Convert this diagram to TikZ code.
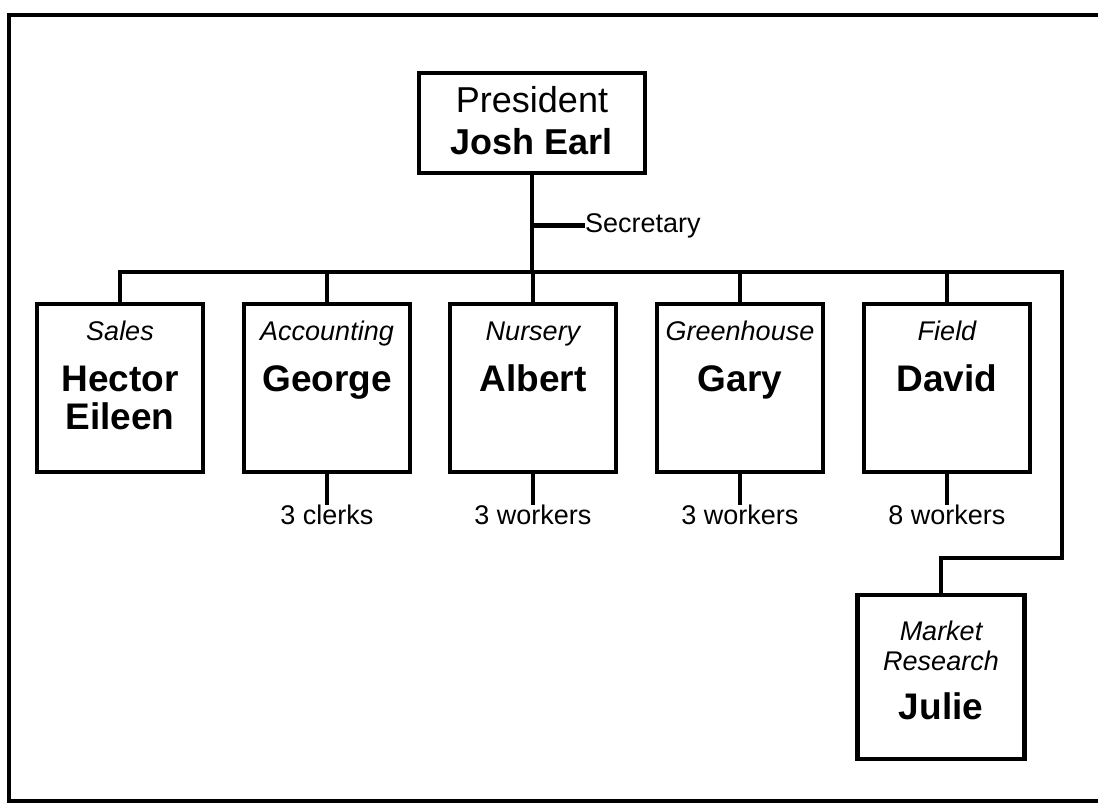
\documentclass[tikz,border=0pt]{standalone}
\usepackage{fontspec}
\setmainfont{Liberation Sans}
\tikzset{
  wire/.style={line width=4.5pt},
  box/.style={draw, line width=4.5pt, inner sep=0pt, minimum width=166pt, minimum height=168pt},
  unit/.style={anchor=base, inner sep=0pt, font=\fontsize{27}{30}\selectfont\itshape},
  who/.style={anchor=base, inner sep=0pt, font=\fontsize{37}{40}\selectfont\bfseries},
  staff/.style={anchor=north, inner sep=0pt, font=\fontsize{27}{30}\selectfont}
}
\begin{document}
\begin{tikzpicture}[x=1pt,y=-1pt]
\useasboundingbox (0,0) rectangle (1098,808);
\draw[line width=4pt] (1098,15) -- (9,15) -- (9,801) -- (1098,801); % frame
% President
\node[box, minimum width=226pt, minimum height=100pt] (pres) at (532,123) {};
\node[anchor=base, inner sep=0pt, font=\fontsize{36}{40}\selectfont] (presT) at (532,112) {President};
\node[who, font=\fontsize{36}{40}\selectfont\bfseries] (presN) at (532,154) {Josh Earl};
\node[anchor=base west, inner sep=0pt, font=\fontsize{27}{30}\selectfont] (sec) at (585,232) {Secretary};
\draw[wire] (pres.south |- sec.west) -- (sec.west); % secretary stub
% Sales
\node[box] (sales) at (120,388) {};
\node[unit] (salesU) at (120,340) {Sales};
\node[who] (salesN1) at (120,391) {Hector};
\node[who] (salesN2) at (120,429) {Eileen};
% Accounting
\node[box] (acct) at (327,388) {};
\node[unit] (acctU) at (327,340) {Accounting};
\node[who] (acctN) at (327,391) {George};
\node[staff] (acctS) at (327,505) {3 clerks};
% Nursery
\node[box] (nurs) at (533,388) {};
\node[unit] (nursU) at (533,340) {Nursery};
\node[who] (nursN) at (533,391) {Albert};
\node[staff] (nursS) at (533,505) {3 workers};
% Greenhouse
\node[box] (green) at (740,388) {};
\node[unit] (greenU) at (740,340) {Greenhouse};
\node[who] (greenN) at (740,391) {Gary};
\node[staff] (greenS) at (740,505) {3 workers};
% Field
\node[box] (field) at (947,388) {};
\node[unit] (fieldU) at (947,340) {Field};
\node[who] (fieldN) at (947,391) {David};
\node[staff] (fieldS) at (947,505) {8 workers};
% Market Research
\node[box, minimum width=167pt, minimum height=164pt] (mr) at (941,677) {};
\node[unit] (mrU1) at (941,640) {Market};
\node[unit] (mrU2) at (941,670) {Research};
\node[who] (mrN) at (941,719) {Julie};
% lines
\coordinate (busR) at (1062,272);
\coordinate (bend) at (1062,558);
\draw[wire] (sales.north) |- (busR) -- (bend) -| (mr.north); % bus
\draw[wire] (pres.south) -- (pres.south |- busR);
\draw[wire] (acct.north) -- (acct.north |- busR);
\draw[wire] (nurs.north) -- (nurs.north |- busR);
\draw[wire] (green.north) -- (green.north |- busR);
\draw[wire] (field.north) -- (field.north |- busR);
\draw[wire] (acct) -- (acctS);
\draw[wire] (nurs) -- (nursS);
\draw[wire] (green) -- (greenS);
\draw[wire] (field) -- (fieldS);
\end{tikzpicture}
\end{document}
